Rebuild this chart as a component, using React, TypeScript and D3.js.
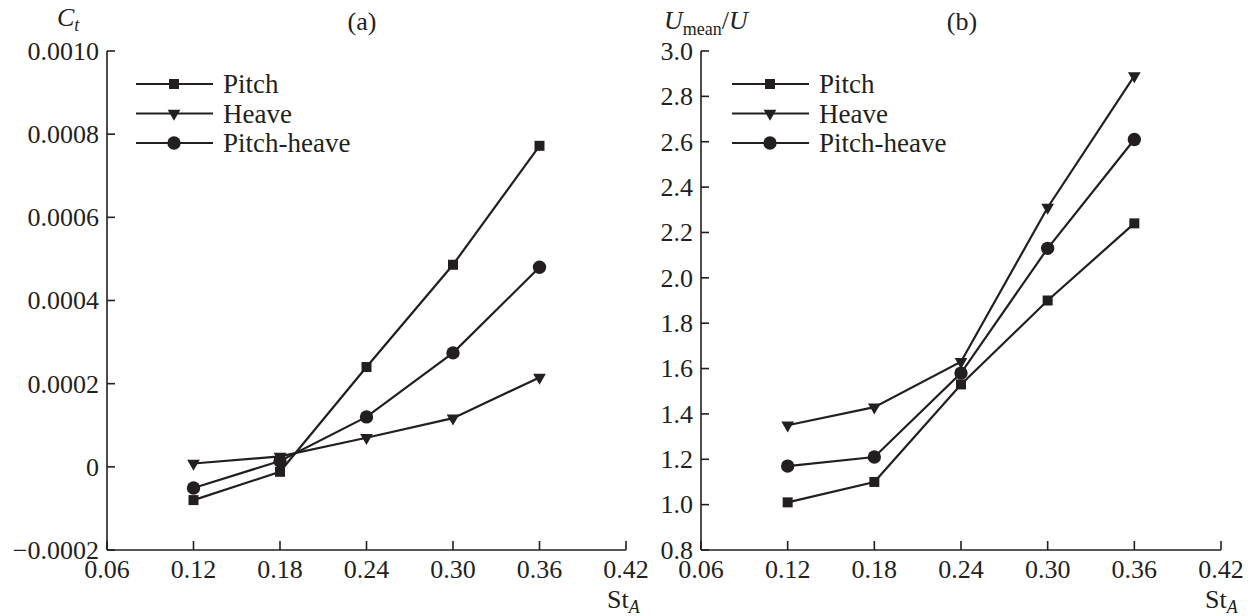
import React from 'react';
import { scaleLinear, line, symbol, symbolSquare, symbolCircle, symbolTriangle } from 'd3';

// Strouhal numbers (shared by both panels)
const stA = [0.12, 0.18, 0.24, 0.3, 0.36];

// panel (a): thrust coefficient
const ctPitch = [-0.00008, -0.000012, 0.00024, 0.000486, 0.000772];
const ctHeave = [0.000008, 0.000025, 0.00007, 0.000117, 0.000215];
const ctPitchHeave = [-0.000051, 0.000014, 0.00012, 0.000274, 0.00048];

// panel (b): mean velocity ratio
const uPitch = [1.01, 1.1, 1.53, 1.9, 2.24];
const uHeave = [1.35, 1.43, 1.63, 2.31, 2.89];
const uPitchHeave = [1.17, 1.21, 1.58, 2.13, 2.61];

const seriesNames = ['Pitch', 'Heave', 'Pitch-heave'];
const xTicks = [0.06, 0.12, 0.18, 0.24, 0.3, 0.36, 0.42];
const xTickLabels = ['0.06', '0.12', '0.18', '0.24', '0.30', '0.36', '0.42'];
const ctTicks = [0.001, 0.0008, 0.0006, 0.0004, 0.0002, 0, -0.0002];
const ctTickLabels = ['0.0010', '0.0008', '0.0006', '0.0004', '0.0002', '0', '\u22120.0002'];
const uTicks = [3.0, 2.8, 2.6, 2.4, 2.2, 2.0, 1.8, 1.6, 1.4, 1.2, 1.0, 0.8];
const uTickLabels = ['3.0', '2.8', '2.6', '2.4', '2.2', '2.0', '1.8', '1.6', '1.4', '1.2', '1.0', '0.8'];

const ink = '#231f20';
const font = "'Liberation Serif', 'Times New Roman', Times, 'DejaVu Serif', serif";
const top = 51;
const bottom = 550;

// marker for each series
const Marker = ({ kind, x, y }) => {
  if (kind === 0) return <path d={symbol(symbolSquare, 100)()} transform={`translate(${x},${y})`} fill={ink} />;
  if (kind === 1) return <path d={symbol(symbolTriangle, 70)()} transform={`translate(${x},${y}) rotate(180)`} fill={ink} />;
  return <path d={symbol(symbolCircle, 140)()} transform={`translate(${x},${y})`} fill={ink} />;
};

const Panel = ({ x0, x1, yDomain, yTicks, yLabels, series, title, titleX, legendX, yTitle, stX }) => {
  const xScale = scaleLinear().domain([0.06, 0.42]).range([x0, x1]);
  const yScale = scaleLinear().domain(yDomain).range([bottom, top]);
  const path = line()
    .x((d) => xScale(d[0]))
    .y((d) => yScale(d[1]));

  return (
    <g fill={ink}>
      {/* axes */}
      <line x1={x0} x2={x0} y1={top} y2={bottom} stroke={ink} strokeWidth={1.6} />
      <line x1={x0} x2={x1} y1={bottom} y2={bottom} stroke={ink} strokeWidth={1.6} />
      {yTicks.map((t, i) => (
        <g key={'y' + i}>
          <line x1={x0} x2={x0 + 8} y1={yScale(t)} y2={yScale(t)} stroke={ink} strokeWidth={1.6} />
          <text x={x0 - 8} y={yScale(t)} dy="0.34em" textAnchor="end" fontSize={26}>
            {yLabels[i]}
          </text>
        </g>
      ))}
      {xTicks.map((t, i) => (
        <g key={'x' + i}>
          <line x1={xScale(t)} x2={xScale(t)} y1={bottom} y2={bottom - 9} stroke={ink} strokeWidth={1.6} />
          <text x={xScale(t)} y={578} textAnchor="middle" fontSize={26}>
            {xTickLabels[i]}
          </text>
        </g>
      ))}
      <text x={stX} y={608} fontSize={26}>
        St<tspan fontSize={18} fontStyle="italic" dy={5}>A</tspan>
      </text>
      <text x={titleX} y={30} textAnchor="middle" fontSize={26}>
        {title}
      </text>
      {yTitle}

      {/* series */}
      {series.map((s, k) => {
        const pts = stA.map((x, i) => [x, s[i]]);
        return (
          <g key={'s' + k}>
            <path d={path(pts)} fill="none" stroke={ink} strokeWidth={2.2} />
            {pts.map((p, i) => (
              <Marker key={i} kind={k} x={xScale(p[0])} y={yScale(p[1])} />
            ))}
          </g>
        );
      })}

      {/* legend */}
      {seriesNames.map((name, k) => {
        const ly = 84 + k * 29.5;
        return (
          <g key={'l' + k}>
            <line x1={legendX} x2={legendX + 77} y1={ly} y2={ly} stroke={ink} strokeWidth={2.2} />
            <Marker kind={k} x={legendX + 38} y={ly} />
            <text x={legendX + 87} y={ly} dy="0.34em" fontSize={27}>
              {name}
            </text>
          </g>
        );
      })}
    </g>
  );
};

const App = () => (
  <svg
    width={1251}
    height={616}
    style={{ position: 'absolute', left: 0, top: 0, background: '#fff', fontFamily: font }}
  >
    <Panel
      x0={107}
      x1={626}
      yDomain={[-0.0002, 0.001]}
      yTicks={ctTicks}
      yLabels={ctTickLabels}
      series={[ctPitch, ctHeave, ctPitchHeave]}
      title="(a)"
      titleX={362}
      legendX={136}
      stX={607}
      yTitle={
        <text x={57} y={26} fontSize={26} fontStyle="italic">
          C<tspan fontSize={18} dy={5}>t</tspan>
        </text>
      }
    />
    <Panel
      x0={701}
      x1={1221}
      yDomain={[0.8, 3.0]}
      yTicks={uTicks}
      yLabels={uTickLabels}
      series={[uPitch, uHeave, uPitchHeave]}
      title="(b)"
      titleX={962}
      legendX={732}
      stX={1205}
      yTitle={
        <text x={664} y={29} fontSize={26}>
          <tspan fontStyle="italic">U</tspan>
          <tspan fontSize={18} dy={6}>mean</tspan>
          <tspan dy={-6}>/</tspan>
          <tspan fontStyle="italic">U</tspan>
        </text>
      }
    />
  </svg>
);

export default App;
